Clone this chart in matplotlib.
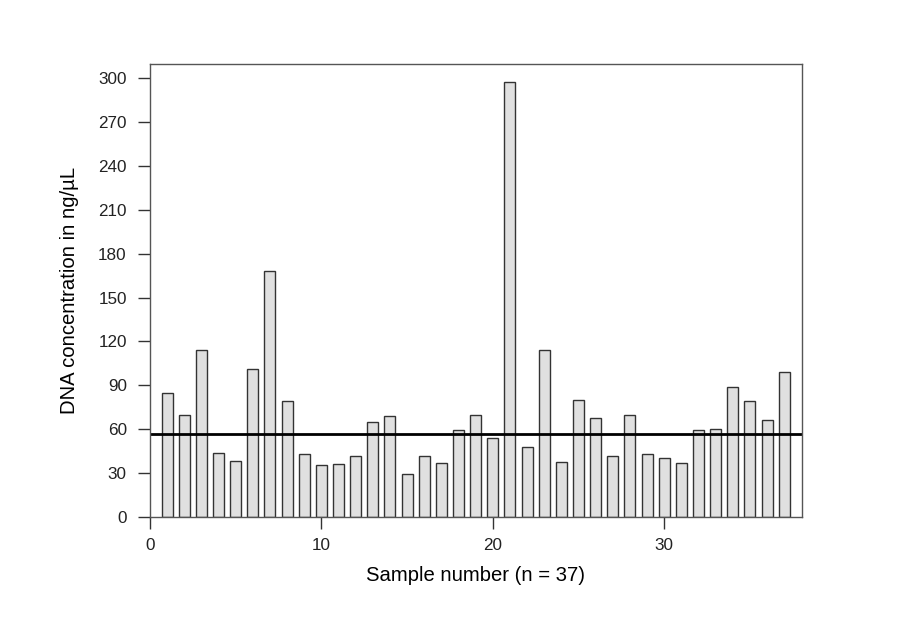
import matplotlib.pyplot as plt

plt.rcParams['font.family'] = ['Liberation Sans', 'DejaVu Sans']

# DNA concentration per sample (ng/uL)
sample_ids = list(range(1, 38))
concentrations = [85, 70, 114, 44, 38, 101, 168, 79.5, 43, 35.3,
                  36.4, 42, 65, 69, 29.6, 41.5, 37, 59.5, 70, 54,
                  297, 48, 114, 37.6, 80, 67.7, 42, 70, 43.3, 40.3,
                  37, 59.5, 60, 88.6, 79.3, 66, 99.3]
reference_level = 56.7
y_ticks = list(range(0, 301, 30))
x_ticks = [0, 10, 20, 30]

fig = plt.figure(figsize=(9.02, 6.26), dpi=100)
ax = fig.add_axes([150 / 902, 109 / 626, 652 / 902, 453 / 626])

ax.bar(sample_ids, concentrations, width=0.64, color='#e0e0e0',
       edgecolor='#333333', linewidth=1.0)
ax.axhline(reference_level, color='black', linewidth=2)

ax.set_xlim(0, 38.04)
ax.set_ylim(0, 309.6)
ax.set_xticks(x_ticks)
ax.set_yticks(y_ticks)

for side in ax.spines.values():
    side.set_color('#555555')
    side.set_linewidth(1.0)

ax.tick_params(axis='both', direction='out', length=8.3, width=1,
               color='#333333', labelsize=12.3, labelcolor='#222222')
ax.tick_params(axis='x', pad=7)
ax.tick_params(axis='y', pad=8.4)

ax.set_xlabel('Sample number (n = 37)', fontsize=14.6, labelpad=9)
ax.set_ylabel('DNA concentration in ng/µL', fontsize=14.6, labelpad=14)

fig.savefig('out.png', dpi=100)
